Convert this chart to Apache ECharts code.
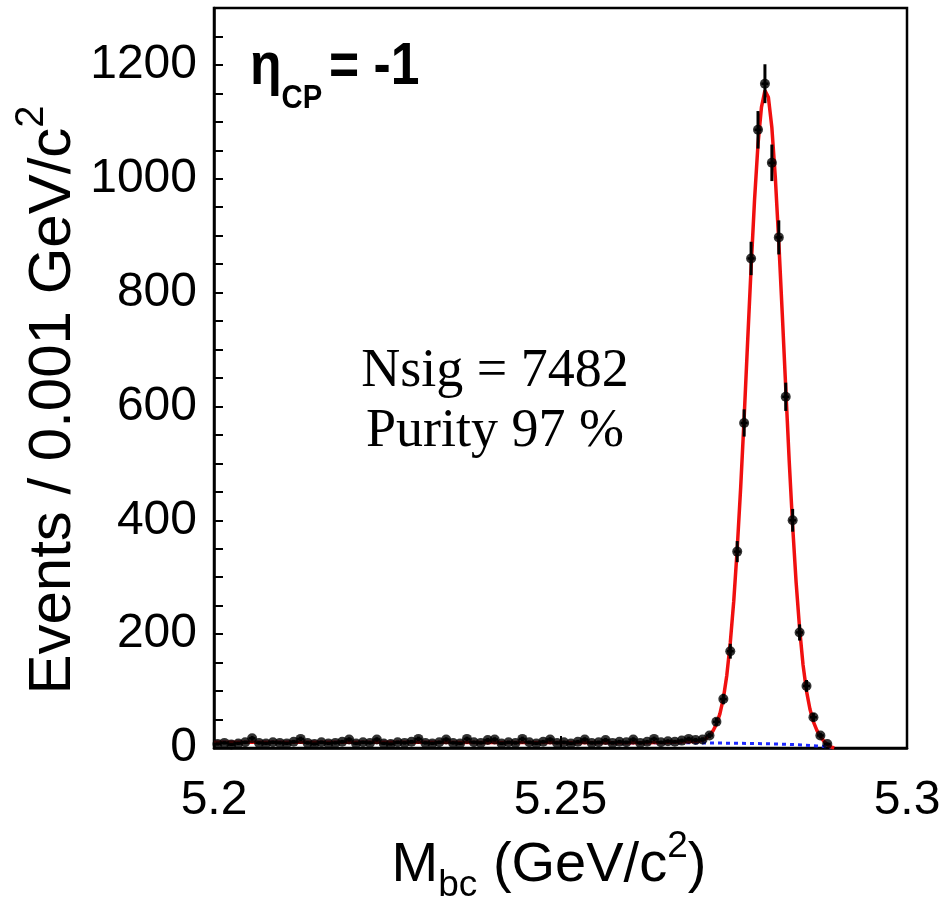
<!DOCTYPE html>
<html>
<head>
<meta charset="utf-8">
<script src="https://cdn.jsdelivr.net/npm/echarts@6/dist/echarts.min.js"></script>
<style>
html,body{margin:0;padding:0;background:#fff;}
#chart{width:942px;height:904px;}
</style>
</head>
<body>
<div id="chart"></div>
<script>
// ---- histogram definition ----
const binLow = 5.2;
const binWidth = 0.001;
// events per 0.001 GeV/c^2 bin, bins from 5.200 upward
const counts = [
  7, 9, 6, 8, 10, 17, 9, 8, 10, 9,
  8, 11, 16, 9, 7, 10, 8, 9, 11, 15,
  8, 10, 9, 15, 8, 7, 10, 9, 11, 16,
  9, 8, 10, 15, 9, 8, 16, 10, 9, 14,
  15, 8, 10, 9, 16, 10, 8, 11, 15, 9,
  10, 8, 11, 15, 9, 10, 14, 9, 11, 10,
  15, 9, 11, 16, 10, 12, 11, 13, 16, 14,
  15, 22, 46, 86, 170, 345, 571, 860, 1086, 1167,
  1028, 897, 617, 400, 203, 109, 54, 22, 7
];
// total fit curve (signal + background)
const fitX = [5.200, 5.210, 5.220, 5.230, 5.240, 5.250, 5.260, 5.265,
  5.2700, 5.2705, 5.2710, 5.2715, 5.2720, 5.2725, 5.2730, 5.2735, 5.2740, 5.2745,
  5.2750, 5.2755, 5.2760, 5.2765, 5.2770, 5.2775, 5.2780, 5.2785, 5.2790, 5.2795,
  5.2800, 5.2805, 5.2810, 5.2815, 5.2820, 5.2825, 5.2830, 5.2835, 5.2840, 5.2845,
  5.2850, 5.2855, 5.2860, 5.2865, 5.2870, 5.2875, 5.2880, 5.2885, 5.2890, 5.2895];
const fitY = [10, 10, 10, 10, 9.8, 9.6, 9.3, 9.5,
  12, 14, 17, 22, 30, 42, 60, 87, 128, 185,
  258, 350, 458, 580, 713, 843, 963, 1061, 1126, 1155,
  1143, 1090, 1002, 889, 763, 633, 505, 390, 291, 210,
  146, 100, 68, 46, 31, 20, 12, 6, 2, 0];
// background (ARGUS) component
const bkgX = [5.200, 5.220, 5.240, 5.260, 5.270, 5.275, 5.280, 5.283, 5.285, 5.287, 5.288, 5.2886, 5.289];
const bkgY = [10, 10, 9.8, 9.3, 9.0, 8.4, 7.4, 6.4, 5.3, 3.7, 2.6, 1.5, 0];
const xTicks = [5.2, 5.25, 5.3];
const yTicks = [0, 200, 400, 600, 800, 1000, 1200];

const points = counts.map((c, i) => [binLow + (i + 0.5) * binWidth, c, Math.sqrt(c)]);

const SANS = "'Liberation Sans', Arial, Helvetica, sans-serif";
const SERIF = "'Liberation Serif', 'Times New Roman', serif";

// ---- helpers for sub/superscript text built from measured pieces ----
const mctx = document.createElement('canvas').getContext('2d');
function measure(t, size, family, weight) {
  mctx.font = (weight || 'normal') + ' ' + size + 'px ' + family;
  return mctx.measureText(t).width;
}
function richGroup(segs, opt) {
  let w = 0;
  const items = segs.map(s => {
    const wd = measure(s.t, s.size, s.family, s.weight);
    const it = { s: s, x: w, w: wd };
    w += wd + (s.gap || 0);
    return it;
  });
  const start = opt.align === 'center' ? -w / 2 : 0;
  return {
    type: 'group',
    x: opt.x, y: opt.y,
    rotation: opt.rotation || 0,
    scaleX: opt.scaleX || 1,
    children: items.map(it => ({
      type: 'text',
      x: start + it.x,
      y: -(0.31 * it.s.size) + (it.s.dy || 0),
      style: {
        text: it.s.t,
        font: (it.s.weight || 'normal') + ' ' + it.s.size + 'px ' + it.s.family,
        fill: '#000',
        align: 'left',
        verticalAlign: 'middle'
      }
    }))
  };
}

const chart = echarts.init(document.getElementById('chart'), null, { renderer: 'canvas' });

const option = {
  backgroundColor: '#fff',
  animation: false,
  grid: {
    left: 214, right: 35, top: 8, bottom: 156,
    show: true, borderColor: '#000', borderWidth: 2.5,
    containLabel: false, outerBoundsMode: 'none'
  },
  xAxis: {
    type: 'value', min: 5.2, max: 5.3, interval: 0.05,
    axisLine: { show: true, onZero: false, lineStyle: { color: '#000', width: 2.5 } },
    axisTick: { show: true, inside: true, length: 12, lineStyle: { color: '#000', width: 2 } },
    splitLine: { show: false },
    axisLabel: {
      margin: 29, color: '#000', fontFamily: SANS, fontSize: 48,
      formatter: v => {
        const r = Math.round(v * 1000) / 1000;
        return xTicks.some(t => Math.abs(t - r) < 1e-6) ? String(r) : '';
      }
    }
  },
  yAxis: {
    type: 'value', min: 0, max: 1300, interval: 50,
    axisLine: { show: true, lineStyle: { color: '#000', width: 2.5 } },
    axisTick: { show: true, inside: true, length: 9, lineStyle: { color: '#000', width: 2 } },
    splitLine: { show: false },
    axisLabel: {
      margin: 17, color: '#000', fontFamily: SANS, fontSize: 48,
      formatter: v => (yTicks.indexOf(Math.round(v)) >= 0 ? String(Math.round(v)) : '')
    }
  },
  series: [
    {
      name: 'background', type: 'line', z: 2,
      data: bkgX.map((x, i) => [x, bkgY[i]]),
      symbol: 'none',
      lineStyle: { color: '#1f2bff', width: 3, type: [4, 4] }
    },
    {
      name: 'fit', type: 'line', z: 3,
      data: fitX.map((x, i) => [x, fitY[i]]),
      symbol: 'none',
      lineStyle: { color: '#f01010', width: 3.5 }
    },
    {
      name: 'errors', type: 'custom', z: 4,
      data: points,
      renderItem: (params, api) => {
        const x = api.value(0), y = api.value(1), e = api.value(2);
        const p0 = api.coord([x, y - e]);
        const p1 = api.coord([x, y + e]);
        const l = api.coord([x - binWidth / 2, y]);
        const r = api.coord([x + binWidth / 2, y]);
        return {
          type: 'group',
          children: [
            { type: 'line', shape: { x1: p0[0], y1: p0[1], x2: p1[0], y2: p1[1] }, style: { stroke: '#000', lineWidth: 3 } },
            { type: 'line', shape: { x1: l[0], y1: l[1], x2: r[0], y2: r[1] }, style: { stroke: '#000', lineWidth: 2.5 } }
          ]
        };
      }
    },
    {
      name: 'data', type: 'scatter', z: 5,
      data: points.map(p => [p[0], p[1]]),
      symbol: 'circle', symbolSize: 10,
      itemStyle: { color: '#000' }
    }
  ],
  graphic: [
    richGroup([
      { t: 'η', size: 60, family: SANS, weight: 'bold' },
      { t: 'CP', size: 34, family: SANS, weight: 'bold', dy: 23, gap: 8 },
      { t: '= -1', size: 60, family: SANS, weight: 'bold' }
    ], { x: 250, y: 86, align: 'left', scaleX: 0.86 }),
    richGroup([{ t: 'Nsig = 7482', size: 54, family: SERIF }], { x: 495, y: 389, align: 'center' }),
    richGroup([{ t: 'Purity 97 %', size: 54, family: SERIF }], { x: 495, y: 449, align: 'center' }),
    richGroup([
      { t: 'M', size: 56, family: SANS },
      { t: 'bc', size: 37, family: SANS, dy: 14, gap: 0 },
      { t: ' (GeV/c', size: 56, family: SANS },
      { t: '2', size: 37, family: SANS, dy: -25 },
      { t: ')', size: 56, family: SANS }
    ], { x: 549, y: 883, align: 'center' }),
    richGroup([
      { t: 'Events / 0.001 GeV/c', size: 60, family: SANS },
      { t: '2', size: 40, family: SANS, dy: -28 }
    ], { x: 72, y: 400, align: 'center', rotation: Math.PI / 2 })
  ]
};
chart.setOption(option);
</script>
</body>
</html>
